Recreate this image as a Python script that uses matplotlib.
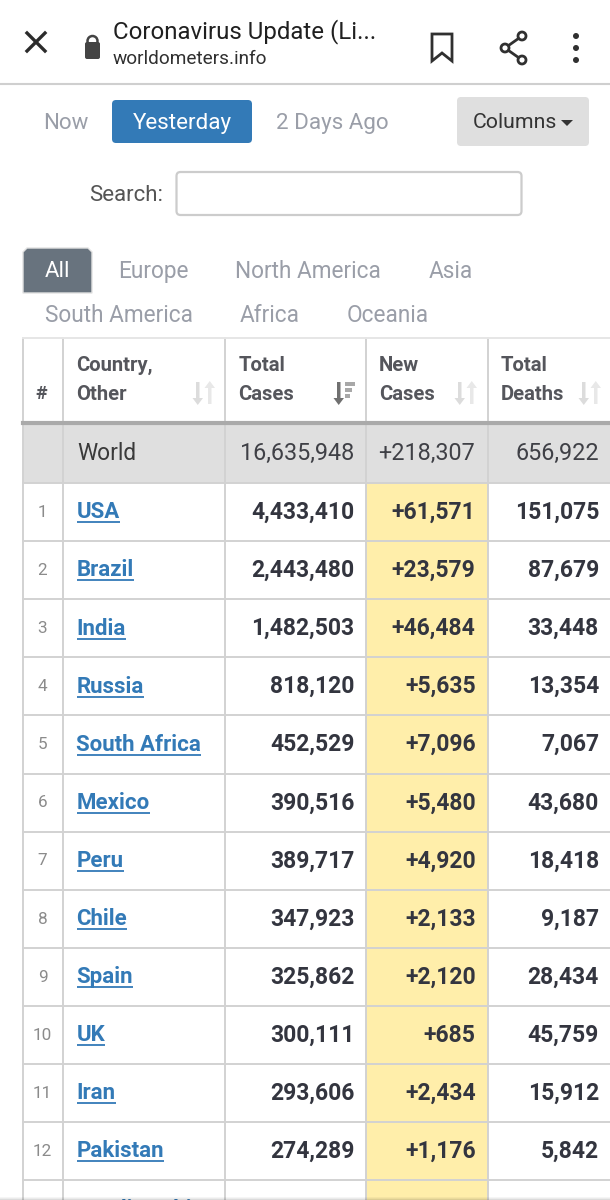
import matplotlib
matplotlib.use("Agg")
import matplotlib.pyplot as plt
from matplotlib.patches import Rectangle, FancyBboxPatch, Polygon, Circle

plt.rcParams["font.family"] = ["Roboto", "DejaVu Sans"]

countries = ["USA", "Brazil", "India", "Russia", "South Africa", "Mexico", "Peru",
             "Chile", "Spain", "UK", "Iran", "Pakistan", "Saudi Arabia"]
total_cases = ["4,433,410", "2,443,480", "1,482,503", "818,120", "452,529", "390,516",
               "389,717", "347,923", "325,862", "300,111", "293,606", "274,289", ""]
new_cases = ["+61,571", "+23,579", "+46,484", "+5,635", "+7,096", "+5,480", "+4,920",
             "+2,133", "+2,120", "+685", "+2,434", "+1,176", ""]
total_deaths = ["151,075", "87,679", "33,448", "13,354", "7,067", "43,680", "18,418",
                "9,187", "28,434", "45,759", "15,912", "5,842", ""]
world = ["World", "16,635,948", "+218,307", "656,922"]
headers = [("Country,", "Other"), ("Total", "Cases"), ("New", "Cases"), ("Total", "Deaths")]
tabs_row1 = ["Europe", "North America", "Asia"]
tabs_row2 = ["South America", "Africa", "Oceania"]

col_x = [22.5, 63.4, 225.3, 366.1, 487.6]
row_top = 483
row_h = 58.1
line_c = "#d2d2d2"
dark = "#33353f"
blue = "#337ab7"
tab_grey = "#9a9ea8"

fig = plt.figure(figsize=(6.1, 12), dpi=100)
ax = fig.add_axes([0, 0, 1, 1])
ax.set_xlim(0, 610)
ax.set_ylim(1200, 0)
ax.axis("off")


def txt(x, y, s, size, color=dark, ha="left", weight="normal", **kw):
    # +2 because va=center sits a bit high for this font
    return ax.text(x, y + 2, s, fontsize=size, color=color, ha=ha, va="center", weight=weight, **kw)


def box(x, y, w, h, fc, ec="none", lw=0, r=4):
    ax.add_patch(FancyBboxPatch((x + r, y + r), w - 2 * r, h - 2 * r, boxstyle=f"round,pad={r}",
                                fc=fc, ec=ec, lw=lw))


def sort_icon(x, y, c1="#dcdcdc", c2="#e8e8e8"):
    # two thin arrows, down and up
    ax.add_patch(Polygon([(x, y - 11), (x + 3.5, y - 11), (x + 3.5, y + 5), (x + 7, y + 5), (x + 1.75, y + 12),
                          (x - 3.5, y + 5), (x, y + 5)], fc=c1, ec="none"))
    ax.add_patch(Polygon([(x + 12, y + 11), (x + 15.5, y + 11), (x + 15.5, y - 5), (x + 19, y - 5),
                          (x + 13.75, y - 12), (x + 8.5, y - 5), (x + 12, y - 5)], fc=c2, ec="none"))


# browser toolbar
ax.plot([27, 45], [33, 51], color="#2b2b2b", lw=2.4)
ax.plot([27, 45], [51, 33], color="#2b2b2b", lw=2.4)
box(85, 42, 15, 17, "#444444", r=2)
ax.add_patch(Circle((92.5, 41), 5, fc="none", ec="#444444", lw=1.8))
txt(113, 30, "Coronavirus Update (Li...", 17.3, "#202020")
txt(113, 57, "worldometers.info", 13.7, "#303030")
ax.add_patch(Polygon([(432, 34), (452, 34), (452, 61), (442, 53), (432, 61)], fc="none", ec="#303030", lw=2))
for x2, y2 in [(522, 36), (522, 60)]:
    ax.plot([505, x2], [48, y2], color="#303030", lw=2)
for cx, cy in [(505, 48), (522, 36), (522, 60)]:
    ax.add_patch(Circle((cx, cy), 4, fc="white", ec="#303030", lw=2, zorder=3))
for cy in [36, 48, 60]:
    ax.add_patch(Circle((576, cy), 3, fc="#303030", ec="none"))
ax.plot([0, 610], [83.5, 83.5], color="#cfcfcf", lw=1.5)

# date switch
txt(43, 121.5, "Now", 16, tab_grey)
box(112, 100, 140, 43, blue)
txt(182.5, 121.5, "Yesterday", 16.1, "white", ha="center")
txt(276, 121.5, "2 Days Ago", 16.1, tab_grey)
box(457, 97, 132, 49, "#dfdfdf")
txt(473, 120.5, "Columns", 15.3, "#333333")
ax.add_patch(Polygon([(561, 120), (573, 120), (567, 126)], fc="#333333", ec="none"))

# search
txt(89, 193.5, "Search:", 16, "#555555")
box(176.5, 172, 345, 43, "white", ec="#cccccc", lw=1.6)

# region tabs
ax.add_patch(Polygon([(23, 293), (23, 252), (27, 248), (88, 248), (92, 252), (92, 293)],
                     fc="#68737e", ec="#e2e2e2", lw=1))
txt(57.5, 269.5, "All", 16, "white", ha="center")
for x, s in zip([118, 235, 429], tabs_row1):
    txt(x, 269.5, s, 16.3, tab_grey)
for x, s in zip([45, 240, 347], tabs_row2):
    txt(x, 314, s, 16.3, tab_grey)

# table fills
ax.add_patch(Rectangle((22.5, 338), 590, 83, fc="white", ec="none"))
ax.add_patch(Rectangle((22.5, 424), 590, 59, fc="#dfdfdf", ec="none"))
n_rows = len(countries)
ax.add_patch(Rectangle((col_x[3], row_top), col_x[4] - col_x[3], 1200 - row_top, fc="#ffeeaa", ec="none"))

# grid lines
for x in col_x:
    ax.plot([x, x], [338, 1200], color=line_c, lw=1.4, zorder=2)
ax.plot([22.5, 610], [338, 338], color="#e6e6e6", lw=1.4, zorder=2)
ax.plot([22.5, 610], [422.5, 422.5], color="#aaaaaa", lw=3, zorder=2)
for i in range(n_rows):
    y = row_top + i * row_h
    ax.plot([22.5, 610], [y, y], color=line_c, lw=1.4, zorder=2)

# header
head_c = "#55565c"
txt(41.5, 392, "#", 14, head_c, ha="center", weight="bold", zorder=4)
for (l1, l2), x in zip(headers, [76.5, 238.5, 379, 501]):
    txt(x, 363.5, l1, 14.6, head_c, weight="bold", zorder=4)
    txt(x, 392, l2, 14.6, head_c, weight="bold", zorder=4)
sort_icon(196, 393)
sort_icon(458, 393)
sort_icon(582, 393)
# active sort on Total Cases
ax.add_patch(Polygon([(337, 382), (340.5, 382), (340.5, 398), (344, 398), (338.7, 405), (333.5, 398), (337, 398)],
                     fc="#707070", ec="none"))
for w, yy in zip([10, 7, 4.5], [384, 390, 396]):
    ax.add_patch(Rectangle((345, yy - 2), w, 4, fc="#a8a8a8", ec="none"))

# world row
txt(77, 451.5, world[0], 16.4, "#3a3a3a", zorder=4)
for s, x in zip(world[1:], [354, 475, 599]):
    txt(x, 451.5, s, 16.8, "#3f4046", ha="right", zorder=4)

# country rows
for i, name in enumerate(countries):
    y = row_top + (i + 0.47) * row_h
    if i < 12:
        txt(42.5, y, str(i + 1), 12.3, "#8b8b8b", ha="center", zorder=4)
    t = txt(76.5, y, name, 16, blue, weight="bold", zorder=4)
    t.set_clip_on(True)
    # link underline follows the text width
    fig.canvas.draw()
    bb = t.get_window_extent().transformed(ax.transData.inverted())
    ax.plot([bb.x0, bb.x1], [y + 12, y + 12], color=blue, lw=1.3, zorder=4, solid_capstyle="butt")
    for s, x in zip([total_cases[i], new_cases[i], total_deaths[i]], [354.5, 475.5, 599]):
        if s:
            txt(x, y, s, 16.5, dark, ha="right", weight="bold", zorder=4)

# shadow at bottom of the screenshot
for k, a in enumerate([0.04, 0.08, 0.14]):
    ax.add_patch(Rectangle((0, 1197 + k), 610, 1, fc="black", alpha=a, ec="none", zorder=5))

fig.savefig("out.png", dpi=100)
